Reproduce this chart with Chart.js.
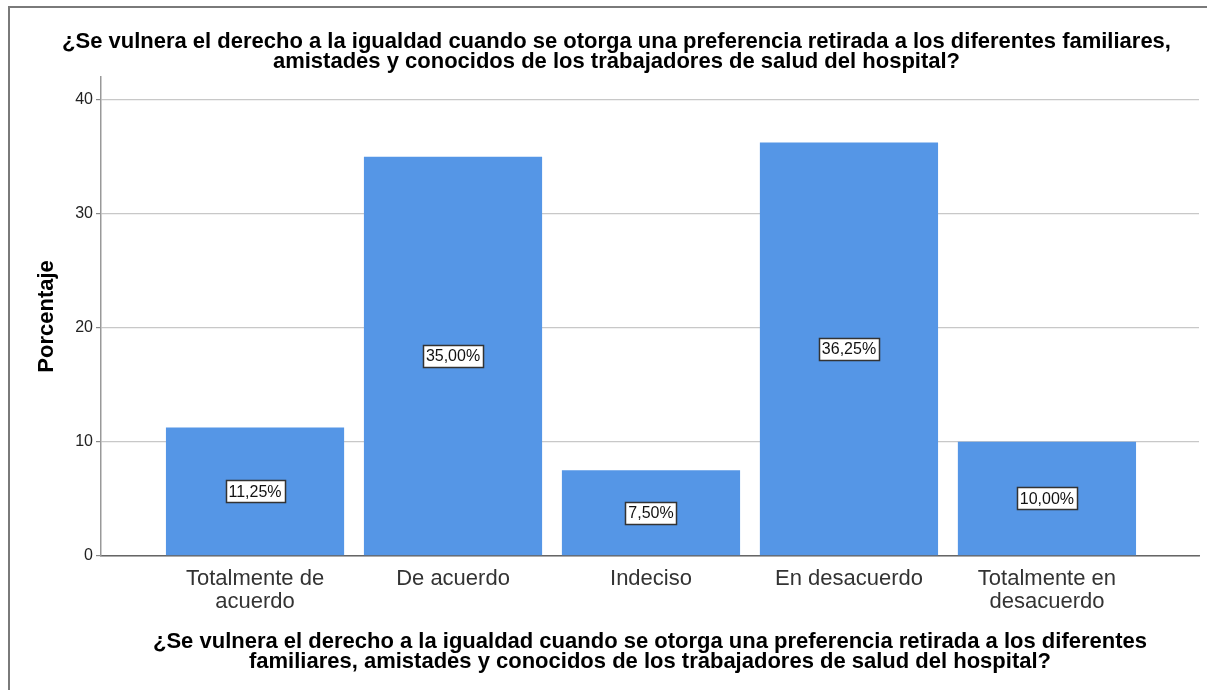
<!DOCTYPE html>
<html>
<head>
<meta charset="utf-8">
<script src="https://cdn.jsdelivr.net/npm/chart.js@4/dist/chart.umd.min.js"></script>
<style>
  html, body { margin: 0; padding: 0; background: #fff; overflow: hidden; }
  #frame { position: absolute; left: 8px; top: 6px; width: 1300px; height: 800px;
           border-left: 2px solid #7a7a7a; border-top: 2px solid #7a7a7a; }
  #wrap { position: absolute; left: 0; top: 0; width: 1207px; height: 690px; }
</style>
</head>
<body>
<div id="frame"></div>
<div id="wrap"><canvas id="c" width="1207" height="690"></canvas></div>
<script>
const categories = [
  ["Totalmente de", "acuerdo"],
  ["De acuerdo"],
  ["Indeciso"],
  ["En desacuerdo"],
  ["Totalmente en", "desacuerdo"]
];
const percentages = [11.25, 35.00, 7.50, 36.25, 10.00];
const valueLabels = ["11,25%", "35,00%", "7,50%", "36,25%", "10,00%"];
const yTicks = [0, 10, 20, 30, 40];
const titleLines = [
  "¿Se vulnera el derecho a la igualdad cuando se otorga una preferencia retirada a los diferentes familiares,",
  "amistades y conocidos de los trabajadores de salud del hospital?"
];
const xTitleLines = [
  "¿Se vulnera el derecho a la igualdad cuando se otorga una preferencia retirada a los diferentes",
  "familiares, amistades y conocidos de los trabajadores de salud del hospital?"
];
const yTitle = "Porcentaje";

const FONT = "Arial, 'Liberation Sans', sans-serif";

const labelPlugin = {
  id: 'boxLabels',
  afterDatasetsDraw(chart) {
    const ctx = chart.ctx;
    const meta = chart.getDatasetMeta(0);
    ctx.save();
    ctx.font = "16px " + FONT;
    ctx.textAlign = 'center';
    ctx.textBaseline = 'middle';
    meta.data.forEach((bar, i) => {
      const txt = valueLabels[i];
      const cx = bar.x;
      const cy = (bar.y + bar.base) / 2;
      const w = Math.round(ctx.measureText(txt).width + 6);
      const h = 22;
      const x0 = Math.round(cx - w / 2) + 0.5;
      const y0 = Math.round(cy - h / 2) + 0.5;
      ctx.fillStyle = '#ffffff';
      ctx.fillRect(x0, y0, w, h);
      ctx.strokeStyle = '#333333';
      ctx.lineWidth = 1.5;
      ctx.strokeRect(x0, y0, w, h);
      ctx.fillStyle = '#111111';
      ctx.fillText(txt, cx, cy + 1);
    });
    ctx.restore();
  }
};

new Chart(document.getElementById('c'), {
  type: 'bar',
  data: {
    datasets: [{
      data: percentages.map((v, i) => ({ x: i + 1, y: v })),
      backgroundColor: '#5596e6',
      borderWidth: 0,
      barPercentage: 0.9,
      categoryPercentage: 1.0
    }]
  },
  options: {
    responsive: false,
    animation: false,
    layout: { padding: { left: 34, right: 8, top: 0, bottom: 18 } },
    plugins: {
      legend: { display: false },
      tooltip: { enabled: false },
      title: {
        display: true,
        text: titleLines,
        color: '#000',
        font: { family: FONT, size: 22, weight: 'bold', lineHeight: 0.91 },
        padding: { top: 32, bottom: 5 }
      }
    },
    scales: {
      x: {
        type: 'linear',
        offset: false,
        min: 0.222,
        max: 5.768,
        grid: { display: false, drawTicks: false },
        border: { display: true, color: '#666', width: 1.5 },
        afterBuildTicks(scale) { scale.ticks = categories.map((c, i) => ({ value: i + 1 })); },
        ticks: {
          autoSkip: false,
          maxRotation: 0,
          padding: 12,
          color: '#333',
          font: { family: FONT, size: 22, lineHeight: 1.05 },
          callback: (v) => categories[Math.round(v) - 1] || ''
        },
        title: {
          display: true,
          text: xTitleLines,
          color: '#000',
          font: { family: FONT, size: 22, weight: 'bold', lineHeight: 0.91 },
          padding: { top: 6, bottom: 0 }
        }
      },
      y: {
        min: 0,
        max: 42,
        afterBuildTicks(scale) { scale.ticks = yTicks.map(v => ({ value: v })); },
        afterFit(scale) { scale.width = 67; },
        grid: { color: '#c8c8c8', lineWidth: 1.2, tickLength: 5, tickColor: '#888' },
        border: { display: true, color: '#999', width: 1.5 },
        ticks: {
          padding: 3,
          color: '#222',
          font: { family: FONT, size: 16 }
        },
        title: {
          display: true,
          text: yTitle,
          color: '#000',
          font: { family: FONT, size: 22, weight: 'bold' },
          padding: { top: 0, bottom: 0 }
        }
      }
    }
  },
  plugins: [labelPlugin]
});
</script>
</body>
</html>
